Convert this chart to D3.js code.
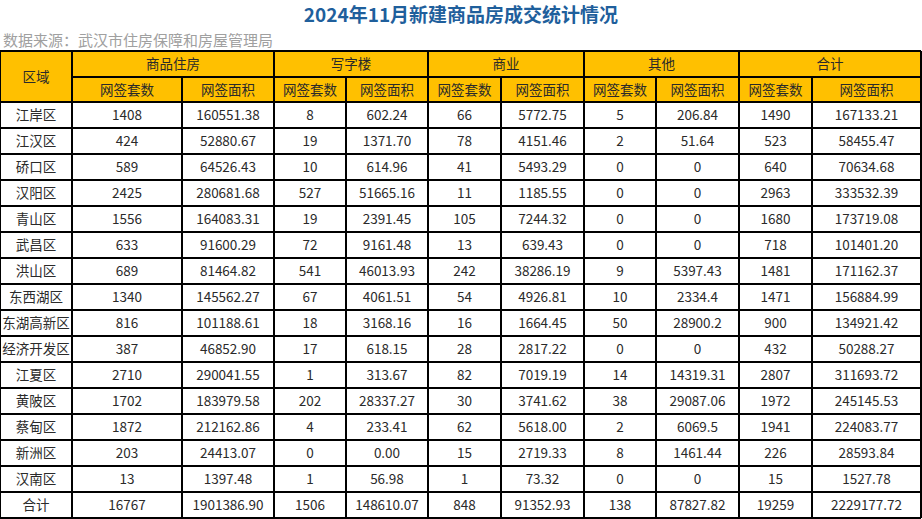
<!DOCTYPE html>
<html><head><meta charset="utf-8">
<script src="https://cdn.jsdelivr.net/npm/d3@7"></script>
<style>body{margin:0;background:#fff}svg{display:block}</style>
</head><body>
<script>
const title = "2024年11月新建商品房成交统计情况";
const source = "数据来源：武汉市住房保障和房屋管理局";
const groups = ["商品住房","写字楼","商业","其他","合计"];
const subHeaders = ["网签套数","网签面积"];
const districts = ["江岸区","江汉区","硚口区","汉阳区","青山区","武昌区","洪山区","东西湖区","东湖高新区","经济开发区","江夏区","黄陂区","蔡甸区","新洲区","汉南区","合计"];
const residentialCount = ["1408","424","589","2425","1556","633","689","1340","816","387","2710","1702","1872","203","13","16767"];
const residentialArea = ["160551.38","52880.67","64526.43","280681.68","164083.31","91600.29","81464.82","145562.27","101188.61","46852.90","290041.55","183979.58","212162.86","24413.07","1397.48","1901386.90"];
const officeCount = ["8","19","10","527","19","72","541","67","18","17","1","202","4","0","1","1506"];
const officeArea = ["602.24","1371.70","614.96","51665.16","2391.45","9161.48","46013.93","4061.51","3168.16","618.15","313.67","28337.27","233.41","0.00","56.98","148610.07"];
const commercialCount = ["66","78","41","11","105","13","242","54","16","28","82","30","62","15","1","848"];
const commercialArea = ["5772.75","4151.46","5493.29","1185.55","7244.32","639.43","38286.19","4926.81","1664.45","2817.22","7019.19","3741.62","5618.00","2719.33","73.32","91352.93"];
const otherCount = ["5","2","0","0","0","0","9","10","50","0","14","38","2","8","0","138"];
const otherArea = ["206.84","51.64","0","0","0","0","5397.43","2334.4","28900.2","0","14319.31","29087.06","6069.5","1461.44","0","87827.82"];
const totalCount = ["1490","523","640","2963","1680","718","1481","1471","900","432","2807","1972","1941","226","15","19259"];
const totalArea = ["167133.21","58455.47","70634.68","333532.39","173719.08","101401.20","171162.37","156884.99","134921.42","50288.27","311693.72","245145.53","224083.77","28593.84","1527.78","2229177.72"];

const columns = [districts,residentialCount,residentialArea,officeCount,officeArea,commercialCount,commercialArea,otherCount,otherArea,totalCount,totalArea];
const colEdges = [0,72,182,274,346,428,501,584,656,739,812,921];
const W=922,H=519,font='"Noto Sans CJK SC","Noto Sans",sans-serif';
const svg=d3.select("body").append("svg").attr("width",W).attr("height",H).style("font-family",font);

svg.append("text").attr("x",461).attr("y",22).attr("text-anchor","middle").attr("font-size",19).attr("font-weight","bold").attr("fill","#1f5f9c").text(title);
svg.append("text").attr("x",3).attr("y",46).attr("font-size",15).attr("fill","#a0a0a0").text(source);

const top0=51,hdr1=77,hdr2=102,bottom=518;
const y=d3.scaleBand().domain(d3.range(districts.length)).range([hdr2,bottom]);
const cx=i=>(colEdges[i]+colEdges[i+1])/2;

svg.append("rect").attr("x",0.5).attr("y",top0).attr("width",colEdges[11]-0.5).attr("height",hdr2-top0).attr("fill","#ffc000");
const g=svg.append("g").attr("font-size",13.5).attr("fill","#2a2a2a");
g.append("text").attr("x",cx(0)).attr("y",(top0+hdr2)/2+5).attr("text-anchor","middle").text("区域");
groups.forEach((name,k)=>{
  const a=colEdges[1+2*k],b=colEdges[3+2*k];
  g.append("text").attr("x",(a+b)/2).attr("y",(top0+hdr1)/2+5).attr("text-anchor","middle").text(name);
  subHeaders.forEach((s,j)=>g.append("text").attr("x",cx(1+2*k+j)).attr("y",(hdr1+hdr2)/2+5).attr("text-anchor","middle").text(s));
});
columns.forEach((col,i)=>{
  g.selectAll(null).data(col).join("text").attr("x",cx(i)).attr("y",(d,r)=>y(r)+y.bandwidth()/2+5)
   .attr("text-anchor","middle").text(d=>d);
});
const L=svg.append("g").attr("stroke","#000").attr("stroke-width",1.3).attr("shape-rendering","crispEdges");
[top0,hdr2,...d3.range(1,districts.length).map(r=>y(r)),bottom].forEach(v=>L.append("line").attr("x1",0).attr("x2",colEdges[11]).attr("y1",v).attr("y2",v));
L.append("line").attr("x1",colEdges[1]).attr("x2",colEdges[11]).attr("y1",hdr1).attr("y2",hdr1);
colEdges.forEach((v,i)=>{
  const full = i<=1||i%2===1||i===11;
  L.append("line").attr("x1",v).attr("x2",v).attr("y1",full?top0:hdr1).attr("y2",bottom);
});
</script>
</body></html>
